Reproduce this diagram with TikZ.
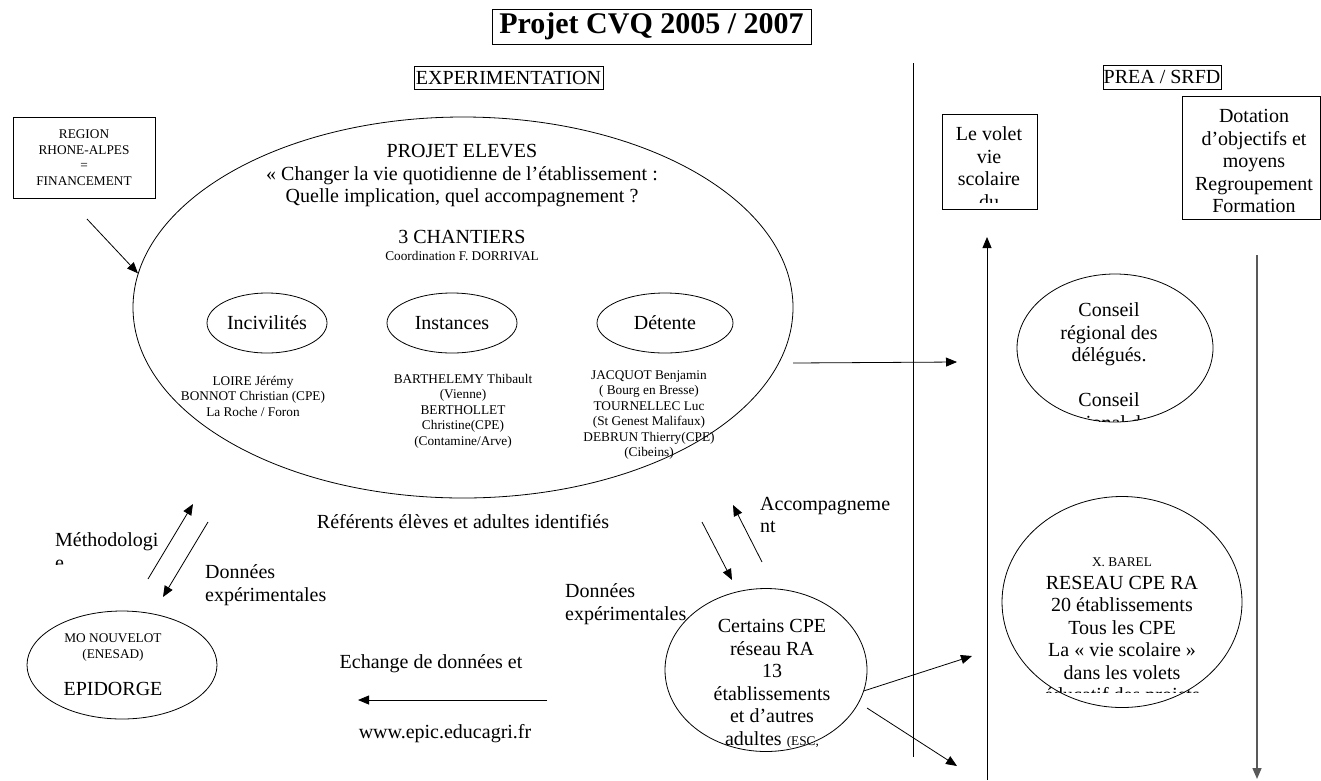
\documentclass[tikz,border=0pt]{standalone}
\usepackage{fontspec}
\setmainfont{Liberation Serif}
\usetikzlibrary{arrows.meta,shapes.geometric}
\begin{document}
\begin{tikzpicture}[x=1pt,y=-1pt,
						big/.style={font=\fontsize{20}{22.5}\selectfont, align=center, inner sep=0pt},
						small/.style={font=\fontsize{13.3}{15.5}\selectfont, align=center, inner sep=0pt},
						box/.style={draw, line width=0.8pt, inner sep=0pt},
						oval/.style={draw, ellipse, line width=0.8pt, inner sep=0pt},
						arr/.style={line width=0.8pt, -{Triangle[length=11pt,width=9pt]}},
					]
					\useasboundingbox (0,0) rectangle (1321,780);
					\node[box, font=\fontsize{30}{34}\selectfont\bfseries, minimum width=319, minimum height=35] (T) at (651.5,26.5) {Projet CVQ 2005 / 2007};
					\node[box, big, minimum width=189, minimum height=23] (X) at (508.5,77.5) {EXPERIMENTATION};
					\node[box, big, minimum width=118, minimum height=24] (P) at (1162,77) {PREA / SRFD};
					\node[box, small, minimum width=142, minimum height=81] (R) at (84,157.5) {REGION\\RHONE-ALPES\\=\\FINANCEMENT};

					\node[oval, minimum width=660, minimum height=381] (E) at (463,307.5) {};
					\node[big] (E1) at (462,176) {PROJET ELEVES\\« Changer la vie quotidienne de l’établissement :\\Quelle implication, quel accompagnement ?};
					\node[big] (E2) at (462,237) {3 CHANTIERS};
					\node[small] (E3) at (462,256) {Coordination F. DORRIVAL};

					\node[oval, big, minimum width=120, minimum height=60] (C1) at (267,323) {Incivilités};
					\node[oval, big, minimum width=130, minimum height=60] (C2) at (452,323) {Instances};
					\node[oval, big, minimum width=136, minimum height=60] (C3) at (665,323) {Détente};
					\node[small] (N1) at (253,396) {LOIRE Jérémy\\BONNOT Christian (CPE)\\La Roche / Foron};
					\node[small] (N2) at (463,411) {BARTHELEMY Thibault\\(Vienne)\\BERTHOLLET\\Christine(CPE)\\(Contamine/Arve)};
					\node[small] (N3) at (649,415) {JACQUOT Benjamin\\( Bourg en Bresse)\\TOURNELLEC Luc\\(St Genest Malifaux)\\DEBRUN Thierry(CPE)\\(Cibeins)};

					\node[big] (F) at (463,522) {Référents élèves et adultes identifiés};
					\begin{scope}
						\clip (40,520) rectangle (200,564);
						\node[big, align=left, anchor=west] (L1) at (55,551) {Méthodologi\\e};
					\end{scope}
					\node[big, align=left, anchor=west] (L2) at (205,585) {Données\\expérimentales};

					\node[oval, minimum width=190, minimum height=108] (M) at (122,665) {};
					\node[small] (M1) at (113,647.5) {MO NOUVELOT\\(ENESAD)};
					\node[big] (M2) at (113,689) {EPIDORGE};

					\node[big] (W1) at (431,664) {Echange de données et};
					\node[big] (W2) at (445,734) {www.epic.educagri.fr};

					\node[big, align=left, anchor=west] (A) at (760,515) {Accompagneme\\nt};
					\node[big, align=left, anchor=west] (L3) at (565,604) {Données\\expérimentales};
					\node[oval, minimum width=202, minimum height=163] (K) at (766,670) {};
					\node[big] (K1) at (772,684) {Certains CPE\\réseau RA\\13\\établissements\\et d’autres\\adultes {\fontsize{13.3}{15.5}\selectfont(ESC,}};

					% colonne PREA / SRFD
					\node[box, minimum width=95, minimum height=95] (V) at (989.5,161.5) {};
					\begin{scope}
						\clip (942,114) rectangle (1037,202);
						\node[big] (V1) at (989,167.5) {Le volet\\vie\\scolaire\\du};
					\end{scope}
					\node[box, minimum width=138, minimum height=123] (D) at (1251,157.5) {};
					\node[big] (D1) at (1254,161) {Dotation\\d’objectifs et\\moyens\\Regroupement\\Formation};

					\node[oval, minimum width=196, minimum height=148] (S1) at (1115,348) {};
					\begin{scope}
						\clip (1115,348) ellipse [x radius=98, y radius=74];
						\clip (1000,270) rectangle (1230,421);
						\node[big] (S1t) at (1109,368) {Conseil\\régional des\\délégués.\\[22.5pt]Conseil\\régional des};
					\end{scope}
					\node[oval, minimum width=240, minimum height=211] (S2) at (1122,602) {};
					\begin{scope}
						\clip (1000,490) rectangle (1245,692);
						\node[big] (S2t) at (1122,632) {{\fontsize{13.3}{15.5}\selectfont X. BAREL}\\RESEAU CPE RA\\20 établissements\\Tous les CPE\\La « vie scolaire »\\dans les volets\\éducatif des projets};
					\end{scope}

					% connecteurs
					\coordinate (r1) at (87,219);
					\coordinate (m1) at (148,579); \coordinate (m2) at (193,504);
					\coordinate (m3) at (208,522); \coordinate (m4) at (163,597);
					\coordinate (w1) at (547,700); \coordinate (w2) at (358,700);
					\coordinate (k1) at (702,522); \coordinate (k2) at (732,580);
					\coordinate (k3) at (762,562); \coordinate (k4) at (733,505);
					\coordinate (k5) at (972,656);
					\coordinate (k6) at (867,708); \coordinate (k7) at (957,766);
					\coordinate (h1) at (793,363); \coordinate (h2) at (957,362);
					\coordinate (d1) at (913,63); \coordinate (d2) at (913,757);
					\coordinate (u1) at (987,780); \coordinate (u2) at (987,237);
					\coordinate (g1) at (1257,255); \coordinate (g2) at (1257,779);

					\draw[arr] (r1) -- (E.174);
					\draw[arr] (m1) -- (m2);
					\draw[arr] (m3) -- (m4);
					\draw[arr] (w1) -- (w2);
					\draw[arr] (k1) -- (k2);
					\draw[arr] (k3) -- (k4);
					\draw[arr] (K.-12) -- (k5);
					\draw[arr] (k6) -- (k7);
					\draw[arr] (h1) -- (h2);
					\draw[line width=0.8pt] (d1) -- (d2);
					\draw[arr] (u1) -- (u2);
					\draw[arr, black!65, line width=1.5pt] (g1) -- (g2);
				\end{tikzpicture}
\end{document}
